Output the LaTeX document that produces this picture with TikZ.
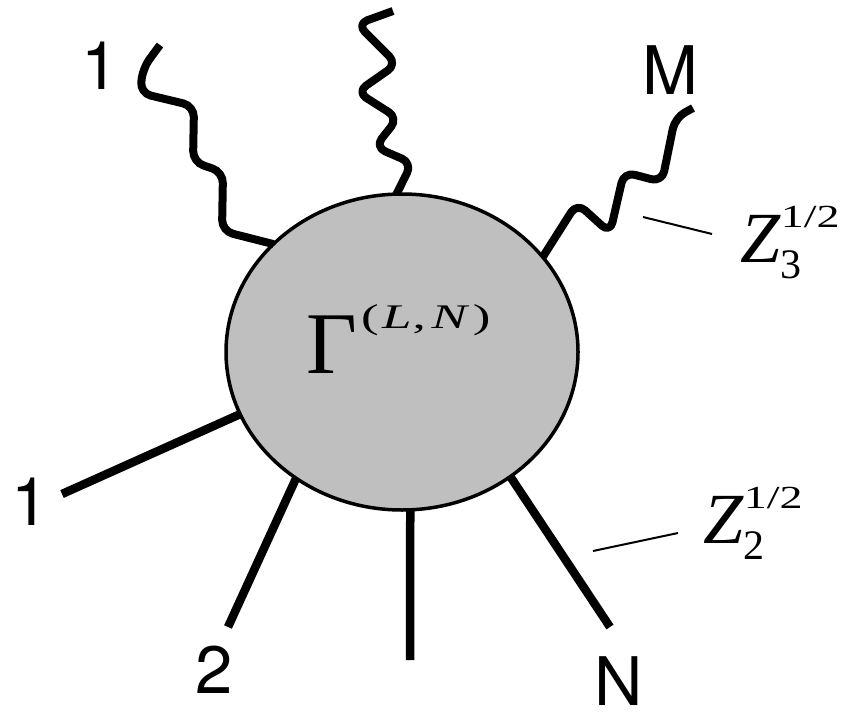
\documentclass[tikz,border=0pt]{standalone}
\usepackage{fontspec}
\usepackage{graphicx}
\usetikzlibrary{shapes.geometric}
\newfontfamily\lab{TeX Gyre Heros}
\newfontfamily\tms{Liberation Serif}
\definecolor{blobgray}{gray}{0.75}
\newcommand{\zlab}[1]{\tms\fontsize{72}{72}\selectfont\textit{Z}\rlap{\raisebox{-16pt}{\fontsize{42}{42}\selectfont #1}}\raisebox{35pt}{\scalebox{1}[0.7]{\fontsize{46}{46}\selectfont 1/2}}}
\begin{document}
\begin{tikzpicture}[x=1pt,y=-1pt,
  leg/.style={line width=8.5pt},
  photon/.style={line width=8pt, rounded corners=11pt, line join=round},
  pointer/.style={line width=2pt},
  lbl/.style={inner sep=0pt, font=\lab\fontsize{67}{67}\selectfont}]
\useasboundingbox (0,0) rectangle (850,714);
\node[ellipse, draw, line width=3.5pt, fill=blobgray, minimum width=352pt, minimum height=316pt, inner sep=0pt, outer sep=0pt] (blob) at (402,352) {};
\node[anchor=base west, inner sep=0pt] (gam) at (306,373) {\tms\fontsize{88}{88}\selectfont Γ\kern4pt\raisebox{45pt}{\scalebox{1.15}[0.75]{\fontsize{46}{46}\selectfont(\kern3pt\textit{L}\kern1pt,\kern5pt\textit{N}\kern3pt)}}};
% fermion legs
\coordinate (e1) at (62,494);
\coordinate (e2) at (228,627);
\coordinate (e3) at (410,660);
\coordinate (e4) at (610,627);
\draw[leg] (blob.201) -- (e1);
\draw[leg] (blob.230) -- (e2);
\draw[leg] (blob.273) -- (e3);
\draw[leg] (blob.311) -- (e4);
% photon legs
\coordinate (p1) at (160,45);
\coordinate (p2) at (393,11);
\coordinate (p3) at (693,108);
\draw[photon] (blob.140) -- (222,231) -- (223,172) -- (193,162) -- (194,106) -- (140,93) -- (143,68) -- (p1);
\draw[photon] (blob.92) -- (412,163) -- (375,147) -- (398,118) -- (357,92) -- (397,64) -- (357,24) -- (p2);
\draw[photon] (blob.34) -- (577,203) -- (610,233) -- (624,172) -- (662,182) -- (675,118) -- (p3);
% labels
\node[lbl] (t1) at (100,66) {1};
\node[lbl] (tm) at (670,70) {M};
\node[lbl] (b1) at (30,502) {1};
\node[lbl] (b2) at (214,670) {2};
\node[lbl] (bn) at (619,681) {N};
% Z factors
\coordinate (z3a) at (643,217);
\coordinate (z3b) at (712,234);
\draw[pointer] (z3a) -- (z3b);
\coordinate (z2a) at (593,551);
\coordinate (z2b) at (678,533);
\draw[pointer] (z2a) -- (z2b);
\node[anchor=base west, inner sep=0pt] (z3) at (740,262) {\zlab{3}};
\node[anchor=base west, inner sep=0pt] (z2) at (703,543) {\zlab{2}};
\end{tikzpicture}
\end{document}
